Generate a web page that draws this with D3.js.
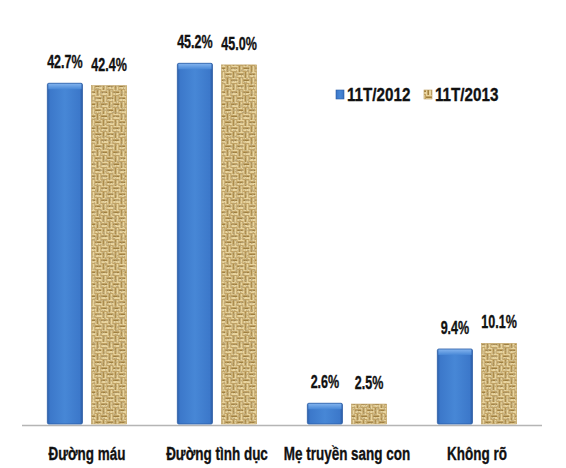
<!DOCTYPE html>
<html>
<head>
<meta charset="utf-8">
<script src="https://cdn.jsdelivr.net/npm/d3@7/dist/d3.min.js"></script>
<style>
  html, body { margin: 0; padding: 0; background: #fff; }
  svg { display: block; }
  text { font-family: "Liberation Sans", Arial, sans-serif; font-weight: bold; fill: #111; stroke: #111; stroke-width: 0.35px; }
</style>
</head>
<body>
<svg id="chart" width="566" height="468"></svg>
<script>
// Transmission routes and the share of cases in each period
const categories = ["Đường máu", "Đường tình dục", "Mẹ truyền sang con", "Không rõ"];
const seriesNames = ["11T/2012", "11T/2013"];
const values2012 = [42.7, 45.2, 2.6, 9.4];
const values2013 = [42.4, 45.0, 2.5, 10.1];
const valueLabels2012 = ["42.7%", "45.2%", "2.6%", "9.4%"];
const valueLabels2013 = ["42.4%", "45.0%", "2.5%", "10.1%"];

const svg = d3.select("#chart");

const x0 = d3.scaleBand().domain(categories).range([22, 542])
  .paddingInner(0.39).paddingOuter(0.195);
const x1 = d3.scaleBand().domain(seriesNames).range([0, x0.bandwidth()])
  .paddingInner(0.2045).paddingOuter(0);
const y = d3.scaleLinear().domain([0, 50]).range([424, 424 - 50 * 7.98]);

const defs = svg.append("defs");

// Blue bar: darker edges, brighter middle
const gBlue = defs.append("linearGradient").attr("id", "blueBody")
  .attr("x1", "0").attr("x2", "1").attr("y1", "0").attr("y2", "0");
[[0, "#2c5fab"], [0.08, "#3c78ca"], [0.5, "#4787d6"], [0.92, "#3c78ca"], [1, "#2a5aa3"]]
  .forEach(([o, c]) => gBlue.append("stop").attr("offset", o).attr("stop-color", c));
const gBlueTop = defs.append("linearGradient").attr("id", "blueTop")
  .attr("x1", "0").attr("x2", "0").attr("y1", "0").attr("y2", "1");
[[0, "#86b6f0"], [1, "#4787d6"]]
  .forEach(([o, c]) => gBlueTop.append("stop").attr("offset", o).attr("stop-color", c));

// Woven burlap texture (12px tile of over/under thread blocks)
const T = 12, B = 6;
const pat = defs.append("pattern").attr("id", "burlap")
  .attr("patternUnits", "userSpaceOnUse").attr("width", T).attr("height", T);
pat.append("rect").attr("width", T).attr("height", T).attr("fill", "#d0b273");
const light = "#e9d5a0", dark = "#a0803f", mid = "#c2a262";
const threads = [light, mid, dark, light, light, mid];
[[0, 0], [B, B]].forEach(([ox, oy]) => {
  threads.forEach((c, k) => pat.append("rect").attr("x", ox).attr("y", oy + k)
    .attr("width", B).attr("height", 1).attr("fill", c));
});
[[B, 0], [0, B]].forEach(([ox, oy]) => {
  threads.forEach((c, k) => pat.append("rect").attr("x", ox + k).attr("y", oy)
    .attr("width", 1).attr("height", B).attr("fill", c));
});

// fibre grain laid over the weave
const grain = defs.append("filter").attr("id", "grain")
  .attr("x", 0).attr("y", 0).attr("width", 1).attr("height", 1);
grain.append("feTurbulence").attr("type", "fractalNoise").attr("baseFrequency", 0.5)
  .attr("numOctaves", 2).attr("seed", 7).attr("result", "noise");
grain.append("feColorMatrix").attr("in", "noise").attr("type", "matrix")
  .attr("values", "0 0 0 0 0.5  0 0 0 0 0.38  0 0 0 0 0.18  0 0 0 3 -1.35")
  .attr("result", "spots");
grain.append("feComposite").attr("in", "spots").attr("in2", "SourceGraphic")
  .attr("operator", "in").attr("result", "spotsIn");
const merge = grain.append("feMerge");
merge.append("feMergeNode").attr("in", "SourceGraphic");
merge.append("feMergeNode").attr("in", "spotsIn");

const rows = categories.map((c, i) => ({
  cat: c,
  bars: [
    { s: seriesNames[0], v: values2012[i], label: valueLabels2012[i] },
    { s: seriesNames[1], v: values2013[i], label: valueLabels2013[i] }
  ]
}));

// axis baseline
svg.append("line").attr("x1", 22).attr("x2", 542).attr("y1", 425.5).attr("y2", 425.5)
  .attr("stroke", "#b5b5b5").attr("stroke-width", 1.5);

const groups = svg.selectAll("g.cat").data(rows).join("g")
  .attr("class", "cat").attr("transform", d => `translate(${x0(d.cat)},0)`);

const bars = groups.selectAll("g.bar").data(d => d.bars).join("g").attr("class", "bar");

bars.each(function (d) {
  const g = d3.select(this);
  const bx = x1(d.s), bw = x1.bandwidth();
  const top = y(d.v), h = y(0) - y(d.v);
  if (d.s === seriesNames[0]) {
    g.append("rect").attr("x", bx).attr("y", top).attr("width", bw).attr("height", h)
      .attr("fill", "url(#blueBody)").attr("rx", 1.5);
    g.append("rect").attr("x", bx + 1).attr("y", top).attr("width", bw - 2).attr("height", Math.min(6, h))
      .attr("fill", "url(#blueTop)");
    g.append("rect").attr("x", bx).attr("y", top).attr("width", bw).attr("height", h)
      .attr("fill", "none").attr("stroke", "#2c5ea6").attr("stroke-width", 0.8).attr("rx", 1.5);
  } else {
    g.append("rect").attr("x", bx).attr("y", top).attr("width", bw).attr("height", h)
      .attr("fill", "url(#burlap)").attr("filter", "url(#grain)");
    g.append("rect").attr("x", bx).attr("y", top).attr("width", bw).attr("height", h)
      .attr("fill", "none").attr("stroke", "#c2a466").attr("stroke-width", 0.6);
  }
  g.append("text")
    .attr("transform", `translate(${bx + bw / 2},${top - 15}) scale(0.66,1)`)
    .attr("text-anchor", "middle").attr("font-size", 19)
    .text(d.label);
});

// category labels
groups.append("text")
  .attr("transform", `translate(${x0.bandwidth() / 2},460) scale(0.71,1)`)
  .attr("text-anchor", "middle").attr("font-size", 19)
  .text(d => d.cat);

// legend
const legend = svg.append("g").attr("transform", "translate(336,101)");
const legendItems = [{ s: seriesNames[0], x: 0 }, { s: seriesNames[1], x: 88 }];
legendItems.forEach((it, i) => {
  legend.append("rect").attr("x", it.x).attr("y", -11).attr("width", 8).attr("height", 9)
    .attr("fill", i === 0 ? "url(#blueBody)" : "url(#burlap)")
    .attr("stroke", i === 0 ? "#2c5ea6" : "#b99b5f").attr("stroke-width", 0.6);
  legend.append("text").attr("transform", `translate(${it.x + 11},0) scale(0.8,1)`)
    .attr("font-size", 19).text(it.s);
});
</script>
</body>
</html>
